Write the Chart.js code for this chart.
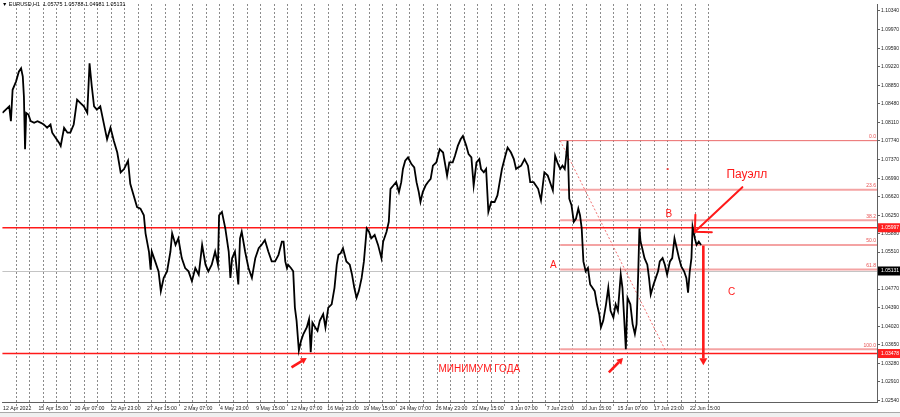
<!DOCTYPE html>
<html><head><meta charset="utf-8">
<script src="https://cdn.jsdelivr.net/npm/chart.js@4.4.1/dist/chart.umd.min.js"></script>
<style>
html,body{margin:0;padding:0;background:#fff;overflow:hidden}
#wrap{position:relative;width:900px;height:417px}
#strip{position:absolute;left:0;top:412px;width:900px;height:5px;background:#f0f0f0;border-top:1px solid #a9a9a9;box-sizing:border-box}
</style></head><body>
<div id="wrap"><canvas id="c" width="900" height="417"></canvas><div id="strip"></div></div>
<script>
// ---------- DATA ----------
const headerText = '\u25BC EURUSD,H1  1.05775 1.05788 1.04981 1.05131';
const timeLabels = ['12 Apr 2022','15 Apr 15:00','20 Apr 07:00','22 Apr 23:00','27 Apr 15:00','2 May 07:00','4 May 23:00','9 May 15:00','12 May 07:00','16 May 23:00','19 May 15:00','24 May 07:00','26 May 23:00','31 May 15:00','3 Jun 07:00','7 Jun 23:00','10 Jun 15:00','15 Jun 07:00','17 Jun 23:00','22 Jun 15:00'];
const yTickValues = [1.10340,1.09970,1.09590,1.09220,1.08850,1.08480,1.08110,1.07740,1.07370,1.06990,1.06620,1.06250,1.05880,1.05510,1.04770,1.04390,1.04020,1.03650,1.03280,1.02910,1.02540];
// bar index (H1 bars from chart start) and price
const bars = [0,6,12,15,18,24,29,33,36,38,40,42,46,50,56,62,68,73,79,85,88,94,100,103,109,115,120,126,132,138,144,150,154,158,162,167,173,179,185,191,197,203,209,215,222,226,232,238,244,250,253,259,262,264,270,276,280,285,291,297,300,306,311,317,323,329,335,341,347,353,359,364,370,376,381,383,388,394,400,403,406,411,417,420,423,429,435,441,447,453,458,464,470,476,482,488,494,
497,500,503,505,510,514,517,520,524,528,532,538,542,545,548,553,557,561,567,571,576,582,587,591,594,598,602,608,614,618,622,626,630,635,639,644,648,652,658,664,670,673,679,683,686,691,696,701,705,708,712,717,723,728,732,736,739,743,748,752,757,761,767,773,779,783,786,790,796,800,805,810,814,820,824,829,833,838,843,846,851,855,859,864,870,875,879,883,889,893,899,904,908,912,917,923,929,933,939,943,947,952,
958,964,970,973,977,981,986,990,994,996,999,1002,1006,1010,1014,1018,1021,1024,1027,1031,1035,1039,1043,1047,1051,1055,1058,1062,1067,1071,1075,1080,1084,1088,1093,1096,1099,1102,1105,1110,1114,1118,1121,1124,1126,1128,1131,1135,1140,1143,1146,1151,1155,1159,1162,1167,1171,1175,1180,1184,1188,1192,1196,1200,1205,1209,1212,1215,1218,1220,1224,1227,1231,1235];
const prices = [1.08297,1.08363,1.08429,1.08132,1.08760,1.08925,1.09123,1.09190,1.09024,1.08628,1.07570,1.08297,1.08264,1.08132,1.08099,1.08132,1.08099,1.08066,1.08000,1.08066,1.07901,1.07801,1.07702,1.07636,1.08000,1.07901,1.07901,1.08066,1.08562,1.08495,1.08429,1.08297,1.09289,1.08826,1.08429,1.08363,1.08429,1.08099,1.07768,1.08000,1.07735,1.07504,1.07107,1.07173,1.07339,1.06876,1.06645,1.06413,1.06380,1.06248,1.05885,1.05521,1.05157,1.05521,1.05323,1.05124,1.04728,1.04992,1.05124,1.05521,1.05885,1.05653,1.05785,1.05389,1.05190,1.05124,1.04926,1.05190,1.05058,1.05653,1.05257,1.05124,1.05257,1.05521,1.05257,1.06248,1.06314,1.05984,1.05521,1.04992,1.05389,1.05521,1.04860,1.05785,1.05918,1.05521,1.05190,1.04992,1.05389,1.05587,1.05653,1.05752,1.05521,1.05323,1.05323,1.05455,1.05719,
1.05720,1.05323,1.05191,1.05257,1.05191,1.05125,1.04398,1.04133,1.03538,1.03737,1.03869,1.04001,1.04166,1.03505,1.04100,1.04001,1.03935,1.04133,1.04266,1.04001,1.04398,1.04464,1.04794,1.05257,1.05455,1.05488,1.05588,1.05323,1.05257,1.05059,1.04794,1.04596,1.04728,1.04993,1.05323,1.05984,1.05918,1.05786,1.05852,1.05654,1.05389,1.05720,1.05918,1.06116,1.06777,1.06843,1.06910,1.06711,1.06910,1.07174,1.07339,1.07405,1.07273,1.07207,1.06910,1.06711,1.06513,1.06711,1.06843,1.06910,1.06976,1.07240,1.07306,1.07571,1.07504,1.07240,1.07042,1.07306,1.07306,1.07438,1.07637,1.07769,1.07835,1.07637,1.07471,1.07405,1.06843,1.07306,1.07372,1.07174,1.07108,1.07174,1.06315,1.06513,1.06513,1.06645,1.06910,1.07174,1.07438,1.07604,1.07504,1.07372,1.07174,1.07207,1.07240,1.07372,1.07240,1.06910,1.06910,1.06843,1.06777,1.06546,
1.07108,1.07042,1.06843,1.06744,1.07438,1.07306,1.07174,1.07240,1.07174,1.07372,1.07736,1.06579,1.06447,1.06116,1.06182,1.06381,1.06248,1.05984,1.05323,1.05125,1.05191,1.04860,1.04794,1.04728,1.04464,1.04265,1.04001,1.04133,1.04464,1.04794,1.04332,1.04199,1.04464,1.04332,1.05059,1.04794,1.04199,1.03564,1.04596,1.04464,1.04067,1.03869,1.04067,1.05125,1.05984,1.05720,1.05587,1.05389,1.05257,1.04993,1.04662,1.04860,1.04993,1.05125,1.05323,1.05389,1.05257,1.05059,1.05323,1.05389,1.05786,1.05587,1.05389,1.05224,1.05125,1.04993,1.04695,1.05125,1.05389,1.06017,1.05786,1.05654,1.05720,1.05654];
const redLevels = [1.05997, 1.03478];
const bidPrice = 1.05131;
const fibHigh = 1.07742, fibLow = 1.03564;
const fibLevels = [0.0, 23.6, 38.2, 50.0, 61.8, 100.0];

// ---------- layout helpers (bar units) ----------
const labelBars = timeLabels.map((t,i)=>26 + 64*i);
const sepBars = []; for (let k=0;k<52;k++) sepBars.push(23.5 + 24*k);
const fibStartBar = 986, fibDiagEnd = {bar:1172, price:1.03540};

const RED = '#ff1a1a';
const texts = [
  {t:'\u041F\u0430\u0443\u044D\u043B\u043B', bar:1316, price:1.07068, size:12},
  {t:'A', bar:974, price:1.05253, size:10},
  {t:'B', bar:1178, price:1.06269, size:10},
  {t:'C', bar:1289, price:1.04708, size:10},
  {t:'\u041C\u0418\u041D\u0418\u041C\u0423\u041C \u0413\u041E\u0414\u0410', bar:843, price:1.03155, size:10}
];

function arrowOpen(ctx,x1,y1,x2,y2,len,ang){
  const a=Math.atan2(y1-y2,x1-x2);
  ctx.beginPath(); ctx.moveTo(x1,y1); ctx.lineTo(x2,y2);
  ctx.moveTo(x2+len*Math.cos(a-ang), y2+len*Math.sin(a-ang)); ctx.lineTo(x2,y2);
  ctx.lineTo(x2+len*Math.cos(a+ang), y2+len*Math.sin(a+ang)); ctx.stroke();
}
function arrowFilled(ctx,x1,y1,x2,y2,len,half){
  const a=Math.atan2(y2-y1,x2-x1);
  const bx=x2-len*Math.cos(a), by=y2-len*Math.sin(a);
  ctx.beginPath(); ctx.moveTo(x1,y1); ctx.lineTo(bx,by); ctx.stroke();
  ctx.beginPath(); ctx.moveTo(x2,y2);
  ctx.lineTo(bx+half*Math.sin(a), by-half*Math.cos(a));
  ctx.lineTo(bx-half*Math.sin(a), by+half*Math.cos(a)); ctx.closePath(); ctx.fill();
}

const overlay = {
  id:'overlay',
  beforeDatasetsDraw(chart){
    const {ctx, chartArea:ca, scales:{x,y}} = chart;
    ctx.save();
    // day separators
    ctx.strokeStyle='rgba(90,90,90,0.7)'; ctx.lineWidth=1; ctx.setLineDash([2,2]);
    sepBars.forEach(b=>{ const px=Math.round(x.getPixelForValue(b))+0.5;
      ctx.beginPath(); ctx.moveTo(px,ca.top); ctx.lineTo(px,ca.bottom+4); ctx.stroke(); });
    ctx.setLineDash([]);
    // bid line
    const by=Math.round(y.getPixelForValue(bidPrice))+0.5;
    ctx.strokeStyle='#c4c4c4'; ctx.lineWidth=1;
    ctx.beginPath(); ctx.moveTo(ca.left,by); ctx.lineTo(ca.right,by); ctx.stroke();
    // fib levels
    const fx=x.getPixelForValue(fibStartBar);
    fibLevels.forEach(l=>{
      const p=fibHigh-(fibHigh-fibLow)*l/100; const py=y.getPixelForValue(p);
      ctx.strokeStyle = l===0 ? '#ea6a6a' : '#f4a3a3'; ctx.lineWidth = l===0?1:2;
      ctx.beginPath(); ctx.moveTo(fx,py); ctx.lineTo(ca.right,py); ctx.stroke();
    });
    // fib diagonal
    ctx.strokeStyle='#f07070'; ctx.lineWidth=1; ctx.setLineDash([2,2]);
    ctx.beginPath(); ctx.moveTo(fx,y.getPixelForValue(fibHigh));
    ctx.lineTo(x.getPixelForValue(fibDiagEnd.bar), y.getPixelForValue(fibDiagEnd.price)); ctx.stroke();
    ctx.setLineDash([]);
    // red horizontal lines
    ctx.strokeStyle=RED; ctx.lineWidth=1.6;
    redLevels.forEach(p=>{ const py=y.getPixelForValue(p);
      ctx.beginPath(); ctx.moveTo(ca.left,py); ctx.lineTo(ca.right,py); ctx.stroke(); });
    ctx.restore();
  },
  afterDatasetsDraw(chart){
    const {ctx, chartArea:ca, scales:{x,y}} = chart;
    const X=b=>x.getPixelForValue(b), Y=p=>y.getPixelForValue(p);
    ctx.save();
    // fib labels
    ctx.fillStyle='#e85050'; ctx.font='5px "Liberation Sans", Arial, sans-serif';
    ctx.textAlign='right'; ctx.textBaseline='bottom';
    fibLevels.forEach(l=>{ const p=fibHigh-(fibHigh-fibLow)*l/100;
      ctx.fillText(l.toFixed(1), ca.right-1, Y(p)-1.5); });
    // texts
    ctx.fillStyle=RED; ctx.textAlign='center'; ctx.textBaseline='middle';
    texts.forEach(o=>{ ctx.font=o.size+'px "Liberation Sans", Arial, sans-serif';
      ctx.fillText(o.t, X(o.bar), Y(o.price)); });
    // small dash
    ctx.strokeStyle=RED; ctx.fillStyle=RED; ctx.lineWidth=1.2;
    ctx.beginPath(); ctx.moveTo(X(1174),Y(1.07173)); ctx.lineTo(X(1178),Y(1.07173)); ctx.stroke();
    // Powell arrow (open head)
    ctx.lineWidth=2; ctx.lineCap='round';
    arrowOpen(ctx, X(1308),Y(1.06810), X(1224),Y(1.05918), 17, Math.PI/4);
    // vertical arrow
    ctx.lineWidth=2.6; ctx.lineCap='butt';
    arrowFilled(ctx, X(1239),Y(1.05640), X(1239),Y(1.03241), 7, 4);
    // bottom arrows
    ctx.lineWidth=2.6;
    arrowFilled(ctx, X(511),Y(1.03201), X(538),Y(1.03389), 6, 3.5);
    arrowFilled(ctx, X(1072),Y(1.03102), X(1097),Y(1.03389), 6, 3.5);
    ctx.restore();
  },
  afterDraw(chart){
    const {ctx, chartArea:ca, scales:{y}} = chart;
    ctx.save();
    ctx.font='5px "Liberation Sans", Arial, sans-serif'; ctx.textBaseline='middle'; ctx.textAlign='left';
    const box=(p,bg)=>{ const py=y.getPixelForValue(p);
      ctx.fillStyle=bg; ctx.fillRect(ca.right+1, py-4.5, 22, 9);
      ctx.fillStyle='#fff'; ctx.fillText(p.toFixed(5), ca.right+4, py); };
    redLevels.forEach(p=>box(p,'#ff2020'));
    box(bidPrice,'#000');
    // header
    ctx.fillStyle='#000'; ctx.font='5.4px "Liberation Sans", "DejaVu Sans", Arial, sans-serif';
    ctx.fillText(headerText, 2, 4.5);
    ctx.restore();
  }
};

new Chart(document.getElementById('c'), {
  type:'line',
  data:{datasets:[{data:bars.map((b,i)=>({x:b,y:prices[i]})), borderColor:'#000', borderWidth:1.8,
    pointRadius:0, tension:0, fill:false, borderJoinStyle:'miter'}]},
  options:{
    responsive:false, animation:false, devicePixelRatio:1,
    layout:{padding:0},
    plugins:{legend:{display:false}, tooltip:{enabled:false}},
    scales:{
      x:{type:'linear', min:0, max:1546,
        afterBuildTicks:s=>{ s.ticks = labelBars.map(v=>({value:v})); },
        afterFit:s=>{ s.height=15; },
        ticks:{autoSkip:false, maxRotation:0, minRotation:0, padding:3, color:'#222',
          font:{size:5.2, family:'"Liberation Sans", Arial, sans-serif'},
          callback:(v,i)=>timeLabels[i]},
        grid:{display:false, drawTicks:false, tickLength:0}, border:{display:true, color:'#606060', width:1}},
      y:{position:'right', min:1.02507, max:1.10479,
        afterBuildTicks:s=>{ s.ticks = yTickValues.map(v=>({value:v})); },
        afterFit:s=>{ s.width=23; },
        ticks:{padding:1, color:'#222', font:{size:5, family:'"Liberation Sans", Arial, sans-serif'},
          callback:v=>Number(v).toFixed(5)},
        grid:{drawOnChartArea:false, tickLength:3, color:'#606060'},
        border:{display:true, color:'#606060', width:1}}
    }
  },
  plugins:[overlay]
});
</script>
</body></html>
